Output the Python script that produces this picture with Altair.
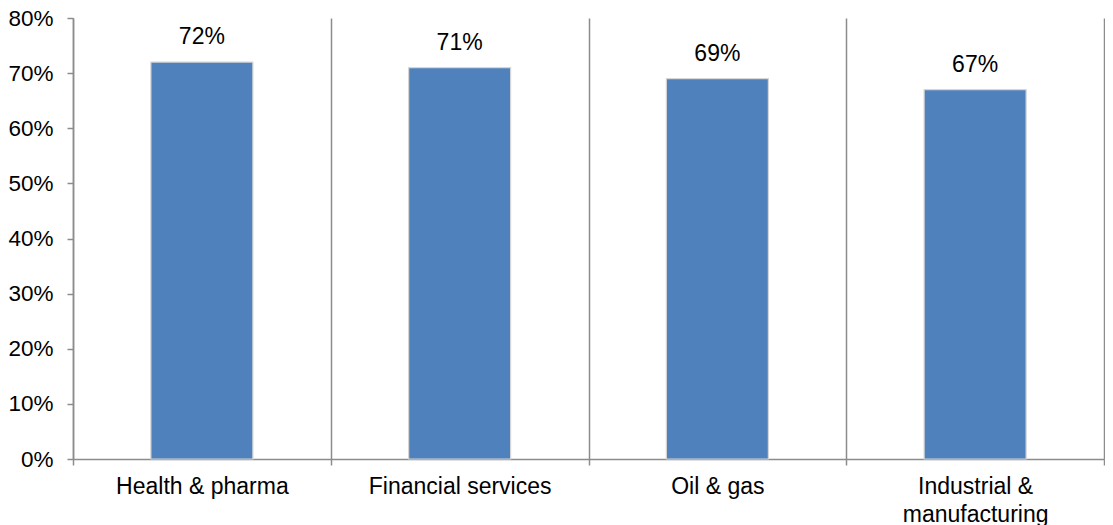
import altair as alt
import pandas as pd

categories = ["Health & pharma", "Financial services", "Oil & gas", "Industrial & manufacturing"]
values = [0.72, 0.71, 0.69, 0.67]
labels = ["72%", "71%", "69%", "67%"]

df = pd.DataFrame({"cat": categories, "val": values, "lab": labels})

FONT = "Liberation Sans"
GRAY = "#8c8c8c"
FS = 23

x = alt.X(
    "cat:N",
    sort=categories,
    scale=alt.Scale(paddingInner=0, paddingOuter=0),
    axis=alt.Axis(
        title=None,
        labelAngle=0,
        grid=True,
        gridColor=GRAY,
        gridWidth=1.5,
        tickBand="extent",
        tickColor=GRAY,
        tickSize=6,
        tickWidth=1.5,
        domainColor=GRAY,
        domainWidth=1.5,
        labelFont=FONT,
        labelFontSize=FS,
        labelColor="black",
        labelPadding=10,
        labelLineHeight=28,
        labelLimit=0,
        labelExpr="datum.value == 'Industrial & manufacturing' ? ['Industrial &', 'manufacturing'] : datum.label",
    ),
)

y = alt.Y(
    "val:Q",
    scale=alt.Scale(domain=[0, 0.8]),
    axis=alt.Axis(
        title=None,
        format=".0%",
        values=[0, 0.1, 0.2, 0.3, 0.4, 0.5, 0.6, 0.7, 0.8],
        grid=False,
        tickColor=GRAY,
        tickSize=6,
        tickWidth=1.5,
        domainColor=GRAY,
        domainWidth=1.5,
        labelFont=FONT,
        labelFontSize=22.5,
        labelColor="black",
        labelPadding=14,
    ),
)

bars = alt.Chart(df).mark_bar(
    size=102, color="#4F81BD", stroke="#d6d6d6", strokeWidth=1.2
).encode(x=x, y=y)

text = alt.Chart(df).mark_text(
    font=FONT, fontSize=FS, color="black", dy=-18, baseline="alphabetic"
).encode(x=alt.X("cat:N", sort=categories), y="val:Q", text="lab:N")

chart = (
    alt.layer(bars, text)
    .properties(
        width=1031,
        height=441,
        autosize=alt.AutoSizeParams(type="none"),
        padding={"left": 65, "top": 10, "right": 1, "bottom": 68},
    )
    .configure_view(stroke=None)
)

chart.save("out.html", embed_options={"renderer": "svg", "actions": False})
